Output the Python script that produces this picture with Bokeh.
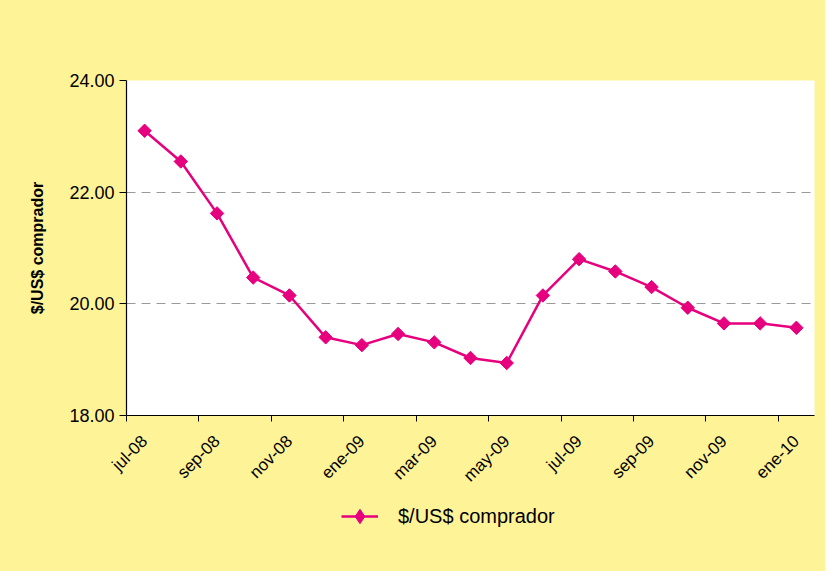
from math import pi
from bokeh.plotting import figure
from bokeh.layouts import column
from bokeh.models import (FixedTicker, Legend, LegendItem, Range1d,
                          NumeralTickFormatter, ColumnDataSource)
from bokeh.embed import file_html
from bokeh.resources import INLINE

# ---- data ----
months = ["jul-08", "ago-08", "sep-08", "oct-08", "nov-08", "dic-08",
          "ene-09", "feb-09", "mar-09", "abr-09", "may-09", "jun-09",
          "jul-09", "ago-09", "sep-09", "oct-09", "nov-09", "dic-09",
          "ene-10"]
rates = [23.10, 22.55, 21.62, 20.47, 20.15, 19.40, 19.26, 19.46, 19.31,
         19.03, 18.94, 20.15, 20.80, 20.58, 20.30, 19.93, 19.65, 19.65,
         19.57]
y_ticks = [18, 20, 22, 24]
grid_ticks = [20, 22]
series_name = "$/US$ comprador"
y_title = "$/US$ comprador"

# ---- style ----
YELLOW = "#FFF398"
MAGENTA = "#E6007E"
FONT = "Liberation Sans"

xs = list(range(len(months)))

p = figure(width=825, height=500, output_backend="svg", toolbar_location=None,
           x_range=Range1d(-0.5, len(months) - 0.5), y_range=Range1d(y_ticks[0], y_ticks[-1]),
           min_border_left=126, min_border_right=11, min_border_top=80, min_border_bottom=85)
p.border_fill_color = YELLOW
p.background_fill_color = "white"
p.outline_line_color = None

# x axis: labels every two months, tick marks between categories
label_pos = xs[::2]
tick_pos = [i - 0.5 for i in xs[::2]]
p.xaxis.ticker = FixedTicker(ticks=label_pos, minor_ticks=tick_pos)
p.xaxis.major_label_overrides = {i: months[i] for i in label_pos}
p.xaxis.major_tick_line_color = None
p.xaxis.major_tick_out = 0
p.xaxis.major_tick_in = 0
p.xaxis.minor_tick_line_color = "black"
p.xaxis.minor_tick_out = 6
p.xaxis.minor_tick_in = 0
p.xaxis.major_label_orientation = pi / 4
p.xaxis.major_label_standoff = 17
p.xaxis.major_label_text_font = FONT
p.xaxis.major_label_text_font_size = "17px"
p.xaxis.major_label_text_color = "black"
p.xaxis.axis_line_color = "black"
p.xaxis.axis_line_width = 1.2

# y axis
p.yaxis.ticker = FixedTicker(ticks=y_ticks)
p.yaxis.formatter = NumeralTickFormatter(format="0.00")
p.yaxis.major_tick_out = 7
p.yaxis.major_tick_in = 0
p.yaxis.minor_tick_line_color = None
p.yaxis.major_label_standoff = 5
p.yaxis.major_label_text_font = FONT
p.yaxis.major_label_text_font_size = "18px"
p.yaxis.major_label_text_color = "black"
p.yaxis.axis_line_color = "black"
p.yaxis.axis_line_width = 1.2
p.yaxis.axis_label = y_title
p.yaxis.axis_label_text_font = FONT
p.yaxis.axis_label_text_font_style = "bold"
p.yaxis.axis_label_text_font_size = "16px"
p.yaxis.axis_label_text_color = "black"
p.yaxis.axis_label_standoff = 20

# grid
p.xgrid.grid_line_color = None
p.ygrid.ticker = FixedTicker(ticks=grid_ticks)
p.ygrid.grid_line_color = "#9a9a9a"
p.ygrid.grid_line_dash = "9 6"
p.ygrid.grid_line_width = 1

# series
p.line(xs, rates, line_color=MAGENTA, line_width=2.5)
p.scatter(xs, rates, marker="square", size=9.5, angle=pi / 4,
          fill_color=MAGENTA, line_color=MAGENTA)

# ---- legend strip below the chart (transparent; the column paints it yellow) ----
lg = figure(width=825, height=71, output_backend="svg", toolbar_location=None,
            x_range=Range1d(0, 1), y_range=Range1d(0, 1),
            min_border_left=0, min_border_right=0, min_border_top=0, min_border_bottom=0)
lg.border_fill_alpha = 0
lg.background_fill_alpha = 0
lg.outline_line_color = None
lg.axis.visible = False
lg.grid.visible = False
# legend proxies: points placed outside the visible range
proxy = ColumnDataSource(data=dict(x=[-5, -4], y=[-5, -5]))
l_line = lg.line("x", "y", source=proxy, line_color=MAGENTA, line_width=2.5)
l_mark = lg.scatter("x", "y", source=proxy, marker="diamond", size=15,
                    fill_color=MAGENTA, line_color=MAGENTA)

legend = Legend(items=[LegendItem(label=series_name, renderers=[l_line, l_mark])],
                location=(215, 37), orientation="horizontal",
                glyph_width=37, glyph_height=36, label_standoff=20,
                padding=0, margin=0, border_line_color=None,
                background_fill_alpha=0,
                label_text_font=FONT, label_text_font_size="20px",
                label_text_color="black")
lg.add_layout(legend, "center")

page = column(p, lg, spacing=0, styles={"background-color": YELLOW})

open("out.html", "w").write(file_html(page, INLINE))
